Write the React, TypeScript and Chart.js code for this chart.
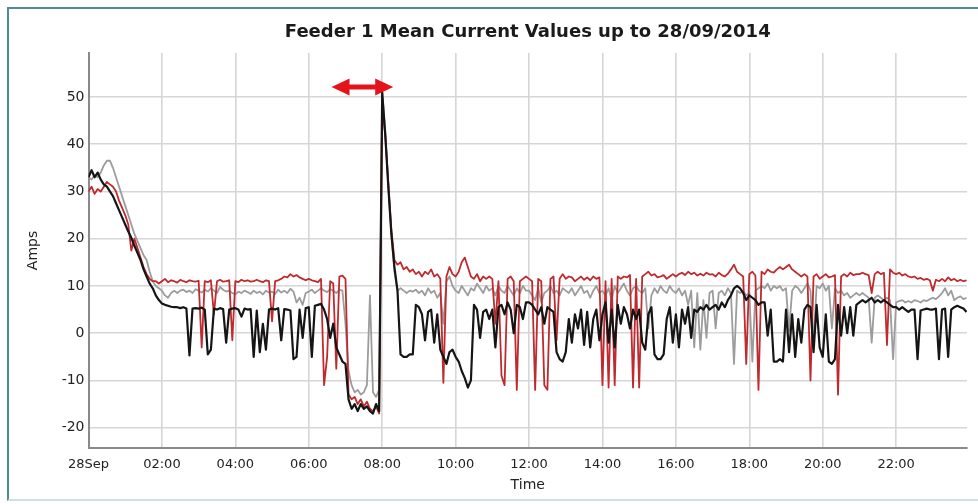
import { useEffect, useRef } from 'react';
import { Chart, registerables } from 'chart.js';

Chart.register(...registerables);

const TITLE = 'Feeder 1 Mean Current Values up to 28/09/2014';
const X_TITLE = 'Time';
const Y_TITLE = 'Amps';
const X_TICK_VALUES = [0, 2, 4, 6, 8, 10, 12, 14, 16, 18, 20, 22];
const X_TICK_LABELS = ['28Sep', '02:00', '04:00', '06:00', '08:00', '10:00', '12:00', '14:00', '16:00', '18:00', '20:00', '22:00'];
const Y_TICK_VALUES = [-20, -10, 0, 10, 20, 30, 40, 50];
const X_MIN = 0;
const X_MAX = 23.93;
const Y_MIN = -24.3;
const Y_MAX = 59.3;
const STEP_MINUTES = 5;

// red double arrow annotation (time in hours, level in Amps)
const ARROW_FROM = 6.62;
const ARROW_TO = 8.3;
const ARROW_LEVEL = 52.1;

// 5-minute samples, one row per hour
const RED = [
  30, 31, 29.5, 30.5, 30, 31, 32, 31.5, 31, 30, 28, 26.5,
  25, 23, 17.5, 20, 18, 16, 14, 12.5, 11.5, 11, 11, 10.5,
  11, 11.5, 10.8, 11.2, 11, 10.7, 11.3, 11, 10.8, 11.2, 11, 10.9,
  11.1, -3, 11, 10.8, 11.2, 4, 11, 11.3, 10.9, 11, 11.2, -1.5,
  11, 10.8, 11.3, 11, 11.2, 10.9, 11, 11.3, 11, 10.8, 11.2, 11,
  2.5, 11, 11.2, 11.5, 12, 11.8, 12.5, 12, 12.3, 11.8, 11.5, 11.2,
  11.5, 11.2, 11, 10.8, 11.5, -11, -5, 11, 10.5, -7.5, 12, 12.2,
  11.5, -13, -14, -13.5, -15, -14, -15.5, -14.5, -16, -16.5, -15.5, -17,
  48, 42, 32, 22, 15.5, 14.5, 15, 13.5, 14, 13, 13.5, 12.5,
  13, 12, 13, 12.5, 13.5, 12, 12.5, 11.5, -10.5, 12, 14, 12.5,
  12, 13, 15, 16, 14, 12, 11.5, 12.5, 11, 12, 11.5, 12,
  11.5, 2, 11, -9, -11, 11.5, 12, 11, -12, 11, 11.5, 12,
  11.5, 11, -12, 11.5, 11, -11, -12, 11.5, 12, -1.5, 11.5, 12.5,
  11.5, 12, 11.8, 11, 11.5, 12, 11.3, 11.8, 11.2, 12, 11.5, 11.8,
  -11, 11, -11.5, 11.5, -11, 12, 11.5, 12, 11.8, 12.3, -11.5, 11.5,
  -11.5, 12, 12.5, 13, 12.2, 12.5, 11.8, 12, 12.3, 11.5, 12, 12.5,
  12, 12.5, 12.8, 12.3, 13, 12.5, 12.8, 12.2, 12.6, 12.2, 12.8, 12.4,
  12.5, 12, 12.8, 12.3, 12, 12.6, 13.5, 14.5, 13, 12.5, 12, -6.5,
  12.5, 13, 12.2, -12, 13, 12.5, 13.5, 13, 12.8, 13.5, 14, 13.5,
  14, 14.5, 13.5, 13, 12.5, 12, 12.5, 12, -10, 12, 12.5, 11.5,
  12, 12.5, 11.8, 12, 12.3, -13, 12, 12.5, 12, 12.8, 12.3, 12.5,
  12.5, 12.8, 12.5, 12.3, 8.5, 12.5, 13, 12.5, 12.8, -2.5, 13.5, 12.8,
  12.5, 12.8, 12.2, 12.5, 12, 11.8, 12, 11.5, 11.7, 11.3, 11.5, 11.2,
  9, 11.3, 11, 11.5, 11, 11.8, 11.2, 11.5, 11, 11.3, 11, 11.2,
];

const GRAY = [
  33, 32.5, 33.5, 33, 34, 35.5, 36.5, 36.5, 35, 33, 31, 29,
  27, 25, 23, 21, 19.5, 18, 16.5, 15.5, 13, 11, 10, 9.5,
  9, 8, 7.5, 8.5, 9, 8.5, 9, 9.2, 8.7, 9, 8.5, 9.3,
  9, 8.6, 9.2, 8.8, 9.5, 9, 8.5, 9.8, 9.2, 8.8, 9, 8.5,
  8.2, 8.8, 8.5, 9, 8.7, 8.3, 9, 8.5, 8.8, 8.2, 9, 8.6,
  8.8, 8.3, 9.2, 8.6, 9, 8.5, 9.4, 8.8, 6.5, 7.5, 6, 8.5,
  8.8, 9.2, 8.5, 9, 9.5, 9, 8.7, 9.3, 9, 8.5, 9.2, 9,
  2, -8, -11, -12.5, -12, -13, -12.5, -11, 8, -12.5, -13.5, -12,
  51, 43, 31, 21, 13, 9, 9.5, 9, 8.5, 9, 8.8, 9.2,
  8.5, 9, 8, 9.5, 8.5, 9, 7.5, 8.5, 2, 11, 12, 10,
  9, 8.5, 10, 9, 8, 9.5, 9, 10.5, 9.5, 8.5, 10, 9,
  9.5, 8, 10, 9, 8.5, 10, 9, 8, 9.5, 8.5, 10, 9,
  9, 8, 7, 9.5, 6.5, 8.5, 9, 10, 8.5, 9, 8, 9.5,
  9, 8.5, 9.5, 8, 9, 10, 8.5, 9, 7.5, 9, 10, 8.5,
  9, 8, 9.5, 7, 10, 8.5, 9.5, 10.5, 9, 8, 9.5, 10,
  9, 8.5, 9.5, 1, 8, 9.5, 8.5, 10, 9, 8.5, 10, 9,
  8.5, 9.5, 8, 9, 6, 9, -3, 8.5, -3.5, 7, -1, 8.5,
  9, 1, 8.5, 9, 8, 9.5, 8.5, -6.5, 9, 8.5, 9, 8,
  8.5, -6, 9, 9.5, 10, 9.5, 10.5, 9, 10, 9.5, 10, 9,
  9.5, 0.5, 9, 10, 9.5, 8.5, 9.5, 10.5, 9, -2, 10, 9.5,
  10.5, 9, 10, 1, 9.5, 8.5, 9, 8, 8.5, 7.5, 8, 8.5,
  8, 8.5, 8, 7.5, -2, 7.5, 8, 7.5, 7, 7.5, 7, -5.5,
  6.5, 6.8, 7, 6.5, 6.8, 6.5, 7, 6.8, 6.5, 7, 6.8, 7.2,
  7.5, 7.2, 7.8, 8.5, 9.5, 8, 9, 7, 7.5, 7.8, 7.2, 7.5,
];

const BLACK = [
  33, 34.5, 33, 34, 32.5, 31.5, 31, 30, 29, 27.5, 26, 24.5,
  23, 21.5, 20.2, 18.5, 17, 15.5, 13.5, 12, 10.5, 9.5, 8, 7,
  6.3, 6, 5.8, 5.6, 5.5, 5.5, 5.3, 5.5, 5.2, -4.7, 5.2, 5.3,
  5.2, 5.4, 5, -4.5, -3.5, 5.2, 5, 5.3, 5.1, -2, 5, 5.2,
  5.3, 5, 3.5, 5.2, 5, 5.1, -5, 4.8, -4, 2, -3.5, 5,
  5.2, 5, 5.3, -1.5, 5.1, 5, 4.8, -5.5, -5, 5, -1, 5.3,
  5.5, -5, 5.8, 6, 6.2, 5, 3, -1, 2, -3, -4.5, -6,
  -6.5, -14, -16, -15, -16.5, -15, -16, -15.5, -16.5, -17, -15, -16.5,
  51, 42, 31, 21, 14, 9, -4.5, -5, -5, -4.5, -4.5, 6,
  5.5, 4, -1.5, 4.5, 5, -2, 4, -3.5, -5, -6.5, -4, -3.5,
  -5, -6, -8, -9.5, -11.5, -10, 6, 5, -1, 4.5, 5, 3,
  5, -3, 5.5, 6, 4, 6.5, 5, 0, 6, 5.5, 3, 6.5,
  6.5, 6, 5, 4, 5.5, 2, 5.5, 5, 4.5, -4, -5.5, -6,
  -4, 3, -2, 4, 1, 5, -2.5, 4.5, -3, 3, 5, -1.5,
  4, 6.5, -2, 5, -3, 6, 2, 5.5, 4, 1, 5, 3,
  5, -2, -3.5, 4, 5.5, -4.5, -5.5, -5.5, -4.5, 3, 5.5, -2,
  4, -3, 5, 2, 5.5, -1, 5, 4.5, 5.5, 5, 6, 5,
  5.5, 6, 5, 6.5, 5.5, 7, 8, 9.5, 10, 9.5, 8.5, 7,
  8, 7.5, 7, 6, 6.5, 6.5, -0.5, 5, -6, -6, -5.5, -6,
  5, -4, 4, -5, 3, -2, 5, 6, 5.5, -4, 6, -3,
  -5, 4, -6, -6.5, -5.5, 6, -0.5, 5.5, 0, 5.5, -0.5, 6,
  6.5, 7, 6.5, 7, 7.5, 6.5, 7, 6.5, 7, 6.5, 6, 5.5,
  5.5, 5, 5.5, 5, 4.5, 5, 5, -5.5, 4.8, 5, 5.2, 5,
  5, 5.2, -5.5, 5, 5.2, -5, 5, 5.5, 5.8, 5.5, 5.2, 4.5,
];

const TIMES = RED.map((_, i) => (i * STEP_MINUTES) / 60);

const RED_COLOR = '#bf2a2e';
const GRAY_COLOR = '#9c9c9c';
const BLACK_COLOR = '#151515';
const ARROW_COLOR = '#e5141b';
const FONT = "'DejaVu Sans', sans-serif";

const toPoints = (vals: number[]) => vals.map((y, i) => ({ x: TIMES[i], y }));

const arrowPlugin = {
  id: 'spanArrow',
  afterDatasetsDraw(chart: any) {
    const { ctx, scales } = chart;
    const x1 = scales.x.getPixelForValue(ARROW_FROM);
    const x2 = scales.x.getPixelForValue(ARROW_TO);
    const yy = scales.y.getPixelForValue(ARROW_LEVEL);
    const head = 18;
    const half = 8.5;
    const shaft = 2.6;
    ctx.save();
    ctx.fillStyle = ARROW_COLOR;
    ctx.beginPath();
    ctx.moveTo(x1, yy);
    ctx.lineTo(x1 + head, yy - half);
    ctx.lineTo(x1 + head, yy - shaft);
    ctx.lineTo(x2 - head, yy - shaft);
    ctx.lineTo(x2 - head, yy - half);
    ctx.lineTo(x2, yy);
    ctx.lineTo(x2 - head, yy + half);
    ctx.lineTo(x2 - head, yy + shaft);
    ctx.lineTo(x1 + head, yy + shaft);
    ctx.lineTo(x1 + head, yy + half);
    ctx.closePath();
    ctx.fill();
    ctx.restore();
  },
};

export default function App() {
  const canvasRef = useRef<HTMLCanvasElement | null>(null);

  useEffect(() => {
    const canvas = canvasRef.current;
    if (!canvas) return;
    const chart = new Chart(canvas, {
      type: 'line',
      data: {
        datasets: [
          { label: 'Black', data: toPoints(BLACK), borderColor: BLACK_COLOR, borderWidth: 2.2 },
          { label: 'Red', data: toPoints(RED), borderColor: RED_COLOR, borderWidth: 1.8 },
          { label: 'Gray', data: toPoints(GRAY), borderColor: GRAY_COLOR, borderWidth: 1.8 },
        ],
      },
      options: {
        responsive: false,
        animation: false,
        devicePixelRatio: 1,
        parsing: false,
        elements: { point: { radius: 0 }, line: { tension: 0, borderJoinStyle: 'round' } },
        layout: { padding: { left: 0, right: 11, top: 0, bottom: 0 } },
        plugins: {
          legend: { display: false },
          tooltip: { enabled: false },
          title: {
            display: true,
            text: TITLE,
            fullSize: false,
            color: '#1a1a1a',
            font: { family: FONT, size: 18, weight: 'bold' },
            padding: { top: 22, bottom: 9.4 },
          },
        },
        scales: {
          x: {
            type: 'linear',
            min: X_MIN,
            max: X_MAX,
            afterBuildTicks: (s: any) => {
              s.ticks = X_TICK_VALUES.map((v) => ({ value: v }));
            },
            afterFit: (s: any) => {
              s.height = 56;
            },
            ticks: {
              autoSkip: false,
              maxRotation: 0,
              padding: 9,
              color: '#222',
              font: { family: FONT, size: 13 },
              callback: (v: any) => {
                const idx = X_TICK_VALUES.indexOf(Number(v));
                return idx >= 0 ? X_TICK_LABELS[idx] : '';
              },
            },
            grid: { color: '#d6d6d6', lineWidth: 1.6, drawTicks: false },
            border: { color: '#8a8a8a', width: 2 },
            title: {
              display: true,
              text: X_TITLE,
              color: '#222',
              font: { family: FONT, size: 14 },
              padding: { top: 10.6, bottom: 10.6 },
            },
          },
          y: {
            type: 'linear',
            min: Y_MIN,
            max: Y_MAX,
            afterBuildTicks: (s: any) => {
              s.ticks = Y_TICK_VALUES.map((v) => ({ value: v }));
            },
            afterFit: (s: any) => {
              s.width = 88.5;
            },
            ticks: {
              padding: 4,
              color: '#222',
              font: { family: FONT, size: 14 },
            },
            grid: { color: '#d6d6d6', lineWidth: 1.6, drawTicks: false },
            border: { color: '#8a8a8a', width: 2 },
            title: {
              display: true,
              text: Y_TITLE,
              color: '#222',
              font: { family: FONT, size: 14 },
              padding: { top: 24.6, bottom: 24.6 },
            },
          },
        },
      },
      plugins: [arrowPlugin],
    } as any);
    return () => chart.destroy();
  }, []);

  return (
    <div>
      <canvas
        ref={canvasRef}
        width={978}
        height={504}
        style={{ position: 'absolute', left: 0, top: 0, width: 978, height: 504, background: '#fff' }}
      />
      <div
        style={{
          position: 'absolute',
          left: 7,
          top: 7,
          width: 971,
          height: 494,
          boxSizing: 'border-box',
          borderLeft: '2px solid #4f8d8f',
          borderTop: '2px solid #4f8d8f',
          borderBottom: '2px solid #cfe2e2',
          pointerEvents: 'none',
        }}
      />
    </div>
  );
}
